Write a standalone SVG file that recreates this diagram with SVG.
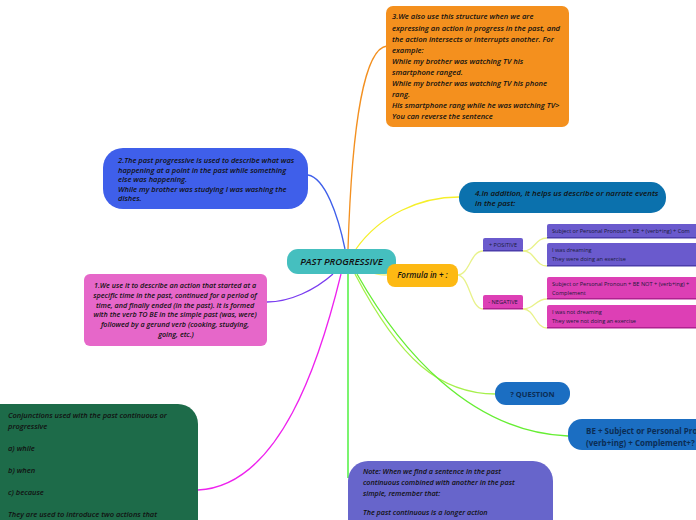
<svg xmlns="http://www.w3.org/2000/svg" width="696" height="520" viewBox="0 0 696 520">
<style>
.t{font-family:"Open Sans","Noto Sans","Liberation Sans",sans-serif;font-style:italic;font-weight:600;fill:#111;}
.s{font-family:"Open Sans","Noto Sans","Liberation Sans",sans-serif;font-size:5.6px;fill:#1a1a3a;}
.b{font-family:"Open Sans","Noto Sans","Liberation Sans",sans-serif;font-weight:700;fill:#0b2d55;}
.c{fill:none;stroke-width:1.3;}
</style>
<rect width="696" height="520" fill="#ffffff"/>
<g id="connectors">
<path class="c" stroke="#f39020" d="M348 249 C352 120 365 48 387 46"/>
<path class="c" stroke="#3f5fea" d="M345 249 C338 215 325 178 308 175"/>
<path class="c" stroke="#f5ef2a" d="M356 249 C380 215 420 197 459 197"/>
<path class="c" stroke="#7a3cf0" d="M333 274 C315 290 290 302 267 302"/>
<path class="c" stroke="#ee22ee" d="M341 274 C320 360 280 486 198 490"/>
<path class="c" stroke="#33ee22" stroke-width="1.6" d="M348 274 L348 478"/>
<path class="c" stroke="#a6f04c" d="M355 274 C400 360 440 394 496 394"/>
<path class="c" stroke="#66ee33" d="M357 274 C400 350 470 432 568 436"/>
<path class="c" stroke="#f0f080" d="M370 272 C376 275 382 275 387 275"/>
<path class="c" stroke="#e8f28a" d="M457 275 C470 275 470 251 483 251"/>
<path class="c" stroke="#e8f28a" d="M457 275 C470 275 470 309 483 309"/>
<path class="c" stroke="#e8f28a" d="M523 251 C535 251 535 238 547 238"/>
<path class="c" stroke="#e8f28a" d="M523 251 C535 251 535 266 547 266"/>
<path class="c" stroke="#e8f28a" d="M523 309 C535 309 535 299 547 299"/>
<path class="c" stroke="#e8f28a" d="M523 309 C535 309 535 328 547 328"/>
</g>
<g id="center">
<rect x="287" y="249" width="109" height="25" rx="11" fill="#45bfbf"/>
<text class="t" x="341.5" y="265" font-size="9.6" text-anchor="middle" font-weight="700">PAST PROGRESSIVE</text>
</g>
<g id="node3">
<rect x="386" y="6" width="183" height="121" rx="7" fill="#f4901e"/>
<text class="t" font-size="7.6">
<tspan x="392" y="19">3.We also use this structure when we are</tspan>
<tspan x="392" y="30.5">expressing an action in progress in the past, and</tspan>
<tspan x="392" y="42">the action intersects or interrupts another. For</tspan>
<tspan x="392" y="53">example:</tspan>
<tspan x="392" y="64">While my brother was watching TV his</tspan>
<tspan x="392" y="75">smartphone ranged.</tspan>
<tspan x="392" y="86">While my brother was watching TV his phone</tspan>
<tspan x="392" y="97">rang.</tspan>
<tspan x="392" y="108">His smartphone rang while he was watching TV&gt;</tspan>
<tspan x="392" y="119">You can reverse the sentence</tspan>
</text>
</g>
<g id="node2">
<rect x="103" y="148" width="205" height="61" rx="20" fill="#3f5fea"/>
<text class="t" font-size="7.5">
<tspan x="118" y="163">2.The past progressive is used to describe what was</tspan>
<tspan x="118" y="172.5">happening at a point in the past while something</tspan>
<tspan x="118" y="182">else was happening.</tspan>
<tspan x="118" y="192">While my brother was studying I was washing the</tspan>
<tspan x="118" y="201">dishes.</tspan>
</text>
</g>
<g id="node1">
<rect x="84" y="274" width="183" height="72" rx="6" fill="#e667c9"/>
<text class="t" font-size="7.2" text-anchor="middle">
<tspan x="176" y="288">1.We use it to describe an action that started at a</tspan>
<tspan x="176" y="298">specific time in the past, continued for a period of</tspan>
<tspan x="176" y="307.5">time, and finally ended (in the past). It is formed</tspan>
<tspan x="176" y="317">with the verb TO BE in the simple past (was, were)</tspan>
<tspan x="176" y="327">followed by a gerund verb (cooking, studying,</tspan>
<tspan x="176" y="337">going, etc.)</tspan>
</text>
</g>
<g id="conjunctions">
<path d="M0 404 H178 A20 20 0 0 1 198 424 V530 H0 Z" fill="#1d6b49"/>
<text class="t" font-size="7.5">
<tspan x="8" y="418">Conjunctions used with the past continuous or</tspan>
<tspan x="8" y="429">progressive</tspan>
<tspan x="8" y="451">a) while</tspan>
<tspan x="8" y="473">b) when</tspan>
<tspan x="8" y="495">c) because</tspan>
<tspan x="8" y="517">They are used to introduce two actions that</tspan>
</text>
</g>
<g id="note">
<rect x="348" y="461" width="205" height="80" rx="20" fill="#6765cb"/>
<text class="t" font-size="7.2">
<tspan x="363" y="474">Note: When we find a sentence in the past</tspan>
<tspan x="363" y="485">continuous combined with another in the past</tspan>
<tspan x="363" y="496">simple, remember that:</tspan>
<tspan x="363" y="515">The past continuous is a longer action</tspan>
</text>
</g>
<g id="node4">
<rect x="459" y="182" width="207" height="31" rx="15" fill="#0b71ad"/>
<text class="t" font-size="7.9">
<tspan x="475" y="196">4.In addition, it helps us describe or narrate events</tspan>
<tspan x="475" y="206">in the past:</tspan>
</text>
</g>
<g id="formula">
<rect x="387" y="264" width="71" height="23" rx="8" fill="#fdb913"/>
<text class="t" x="422.5" y="278" font-size="8" text-anchor="middle">Formula in + :</text>
</g>
<g id="positive">
<rect x="483" y="238" width="40" height="13" rx="2" fill="#6a5acd"/>
<rect x="483" y="250" width="40" height="1.5" fill="#4b3cab"/>
<text class="s" x="503" y="247" text-anchor="middle">+ POSITIVE</text>
</g>
<g id="pos-formula">
<rect x="547" y="224" width="160" height="14" rx="2" fill="#6a5acd"/>
<rect x="547" y="237" width="160" height="1.5" fill="#4b3cab"/>
<text class="s" x="552" y="233">Subject or Personal Pronoun + BE + (verb+ing) + Com</text>
</g>
<g id="pos-example">
<rect x="547" y="243" width="160" height="23" rx="2" fill="#6a5acd"/>
<rect x="547" y="265" width="160" height="1.5" fill="#4b3cab"/>
<text class="s"><tspan x="552" y="252">I was dreaming</tspan><tspan x="552" y="261">They were doing an exercise</tspan></text>
</g>
<g id="negative">
<rect x="483" y="295" width="40" height="14" rx="2" fill="#dd3fb5"/>
<rect x="483" y="308" width="40" height="1.5" fill="#b02090"/>
<text class="s" x="503" y="304" text-anchor="middle">- NEGATIVE</text>
</g>
<g id="neg-formula">
<rect x="547" y="277" width="160" height="22" rx="2" fill="#dd3fb5"/>
<rect x="547" y="298" width="160" height="1.5" fill="#b02090"/>
<text class="s"><tspan x="552" y="286">Subject or Personal Pronoun + BE NOT + (verb+ing) +</tspan><tspan x="552" y="295">Complement</tspan></text>
</g>
<g id="neg-example">
<rect x="547" y="305" width="160" height="23" rx="2" fill="#dd3fb5"/>
<rect x="547" y="327" width="160" height="1.5" fill="#b02090"/>
<text class="s"><tspan x="552" y="314">I was not dreaming</tspan><tspan x="552" y="323">They were not doing an exercise</tspan></text>
</g>
<g id="question">
<rect x="495" y="382" width="75" height="23" rx="11" fill="#1b6ec2"/>
<text class="b" x="532.5" y="397" font-size="7.5" text-anchor="middle">? QUESTION</text>
</g>
<g id="question-formula">
<rect x="568" y="419" width="160" height="31" rx="14" fill="#1b6ec2"/>
<text class="b" font-size="8"><tspan x="586" y="434">BE + Subject or Personal Pro</tspan><tspan x="586" y="446">(verb+ing) + Complement+?</tspan></text>
</g>
</svg>
